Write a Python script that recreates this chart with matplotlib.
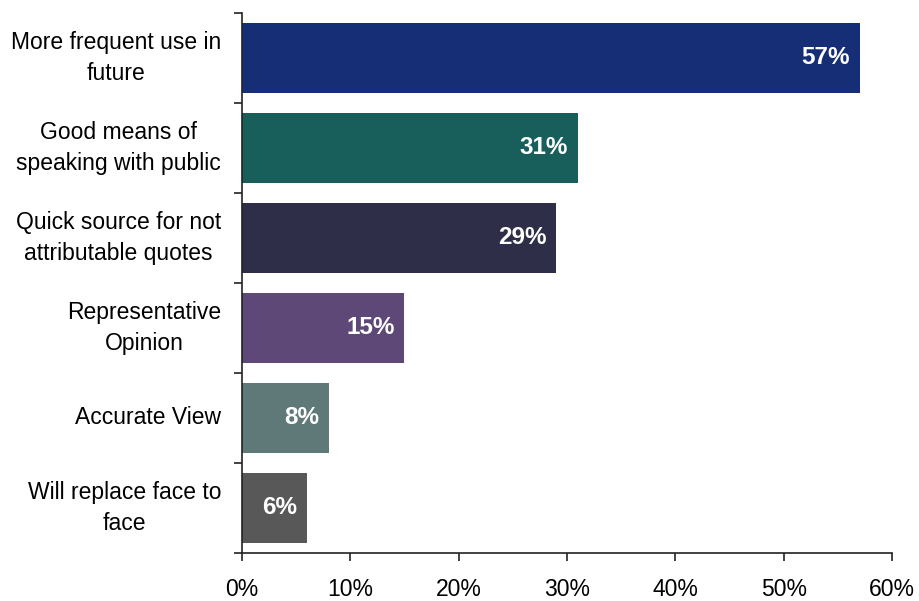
import matplotlib
matplotlib.use("Agg")
import matplotlib.pyplot as plt
import numpy as np

categories = [
    "More frequent use in\nfuture",
    "Good means of\nspeaking with public",
    "Quick source for not\nattributable quotes",
    "Representative\nOpinion",
    "Accurate View",
    "Will replace face to\nface",
]
values = [57, 31, 29, 15, 8, 6]
colors = ["#162e75", "#185e5b", "#2e2e48", "#5d4877", "#5e7977", "#585858"]
xticks = [0, 10, 20, 30, 40, 50, 60]
xtick_labels = ["0%", "10%", "20%", "30%", "40%", "50%", "60%"]

plt.rcParams["font.family"] = ["Liberation Sans", "DejaVu Sans"]

fig = plt.figure(figsize=(9.2, 6.01), dpi=100)
ax = fig.add_axes([0.263, 0.0799, 0.7066, 0.8985])

y = np.arange(len(categories))
ax.barh(y, values, height=0.78, color=colors)

for yi, v in zip(y, values):
    ax.annotate(f"{v}%", xy=(v, yi), xytext=(-7, 0), textcoords="offset points",
                ha="right", va="center", color="white", fontsize=17.5,
                fontweight="bold")

ax.set_xlim(0, 60)
ax.set_ylim(len(categories) - 0.5, -0.5)

ax.set_xticks(xticks)
ax.set_xticklabels(xtick_labels, fontsize=16.5)
ax.set_yticks(y)
ax.set_yticklabels(categories, fontsize=16.5, linespacing=1.4,
                   multialignment="center", va="center")
ax.set_yticks(np.arange(-0.5, len(categories), 1.0), minor=True)

ax.tick_params(axis="y", which="major", length=0, pad=15)
ax.tick_params(axis="y", which="minor", length=6, width=1.2, color="#222222")
ax.tick_params(axis="x", which="major", length=6, width=1.2, color="#222222", pad=12)

for s in ["top", "right"]:
    ax.spines[s].set_visible(False)
for s in ["left", "bottom"]:
    ax.spines[s].set_linewidth(1.2)
    ax.spines[s].set_color("#222222")

fig.savefig("out.png", dpi=100)
